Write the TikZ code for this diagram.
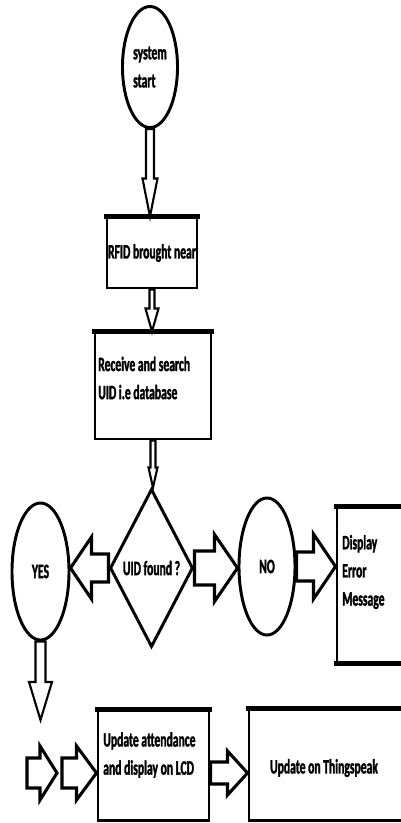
\documentclass[tikz,border=0pt]{standalone}
\usepackage{fontspec}
\setmainfont{Carlito}[FakeStretch=0.57,BoldFeatures={FakeBold=1.6}]
\usetikzlibrary{shapes.geometric,calc}
\pgfkeys{/pixel/.code=\tikzset{x={(0.025cm,0cm)},y={(0cm,-0.025cm)}}}
\def\pxpt{0.7113pt}
\tikzset{
  flow/.style={font=\bfseries\fontsize{14.5}{20}\selectfont},
  startend/.style={flow,ellipse,draw,line width=2.1pt,inner sep=0pt,align=left},
  decide/.style={flow,diamond,draw,line width=2.1pt,inner sep=0pt},
  box/.style={flow,draw,line width=2.1pt,inner sep=0pt,
    append after command={(\tikzlastnode.north west) edge[line width=3.6pt,shorten <=-1pt,shorten >=-1pt] (\tikzlastnode.north east)}},
  boxtwo/.style={box,
    append after command={(\tikzlastnode.south west) edge[line width=3pt,shorten <=-1pt,shorten >=-1pt] (\tikzlastnode.south east)}},
  fatarr/.style={draw,fill=white,line width=2.2pt,line join=miter},
  fatthin/.style={line width=1.5pt}
}
% hollow block arrow: [style]{from}{to}{half shaft}{half head}{head length}, sizes in px
\newcommand\fatarrow[6][]{%
  \draw[fatarr,#1] let \p1=(#2), \p2=(#3),
    \n1={atan2(\y2-\y1,\x2-\x1)}, \n2={veclen(\x2-\x1,\y2-\y1)},
    \n3={\n2-#6*\pxpt}, \n4={#4*\pxpt}, \n5={#5*\pxpt} in
    ([shift={(\p1)},rotate=\n1]0pt,\n4) -- ([shift={(\p1)},rotate=\n1]\n3,\n4)
    -- ([shift={(\p1)},rotate=\n1]\n3,\n5) -- ([shift={(\p1)},rotate=\n1]\n2,0pt)
    -- ([shift={(\p1)},rotate=\n1]\n3,-\n5) -- ([shift={(\p1)},rotate=\n1]\n3,-\n4)
    -- ([shift={(\p1)},rotate=\n1]0pt,-\n4) -- cycle;}
\begin{document}
\begin{tikzpicture}[/pixel]
\useasboundingbox (0,0) rectangle (401,823);
\clip (0,0) rectangle (401,823);
% shapes
\node[startend,minimum width=1.375cm,minimum height=3.025cm] (start) at (150,67) {system\\start};
\node[box,minimum width=2.25cm,minimum height=1.75cm] (rfid) at (152,253) {RFID brought near};
\node[box,minimum width=2.9cm,minimum height=2.65cm] (recv) at (153,386) {};
\node[flow,anchor=west,align=left,inner sep=0pt] (recvtxt) at (98,378) {Receive and search\\UID i.e database};
\node[decide,minimum width=2.075cm,minimum height=3.95cm] (uid) at (151.5,568) {UID found ?};
\node[startend,minimum width=1.425cm,minimum height=3.425cm] (yes) at (40.5,571.5) {YES};
\node[startend,minimum width=1.4cm,minimum height=3.425cm] (no) at (267,566.5) {NO};
\node[boxtwo,minimum width=2.075cm,minimum height=3.85cm] (disp) at (378.5,585) {};
\node[flow,anchor=west,align=left,inner sep=0pt] (disptxt) at (342,572) {Display\\Error\\Message};
\node[box,minimum width=2.775cm,minimum height=2.725cm] (lcd) at (153.5,765.5) {};
\node[flow,anchor=west,align=left,inner sep=0pt] (lcdtxt) at (103,755) {Update attendance\\and display on LCD};
\node[box,minimum width=4.275cm,minimum height=2.75cm] (thing) at (334.5,765) {};
\node[flow,inner sep=0pt] (thingtxt) at (324,768) {Update on Thingspeak};
\coordinate (yesend) at (40.5,720);
\coordinate (lcdin1) at (27,773);
\coordinate (lcdin2) at (57,773);
\coordinate (lcdin3) at (62,773);
% arrows
\fatarrow[fatthin]{start.south}{start.south |- rfid.north}{4}{7.5}{38}
\fatarrow[fatthin]{rfid.south}{rfid.south |- recv.north}{2.5}{6.5}{23}
\fatarrow[fatthin]{recv.south}{recv.south |- uid.north}{2.5}{4.5}{20}
\fatarrow{uid.west}{uid.west -| yes.east}{14}{31}{21}
\fatarrow{uid.east}{uid.east -| no.west}{17}{33.5}{23}
\fatarrow{no.east}{no.east -| disp.west}{14.5}{32.5}{22}
\fatarrow[fatthin]{yes.south}{yesend}{5}{11.5}{38}
\fatarrow{lcdin1}{lcdin2}{15}{27}{17}
\fatarrow{lcdin3}{lcdin3 -| lcd.west}{15}{27}{20}
\fatarrow{lcd.east |- lcdin1}{thing.west |- lcdin1}{11}{22}{20}
\end{tikzpicture}
\end{document}
